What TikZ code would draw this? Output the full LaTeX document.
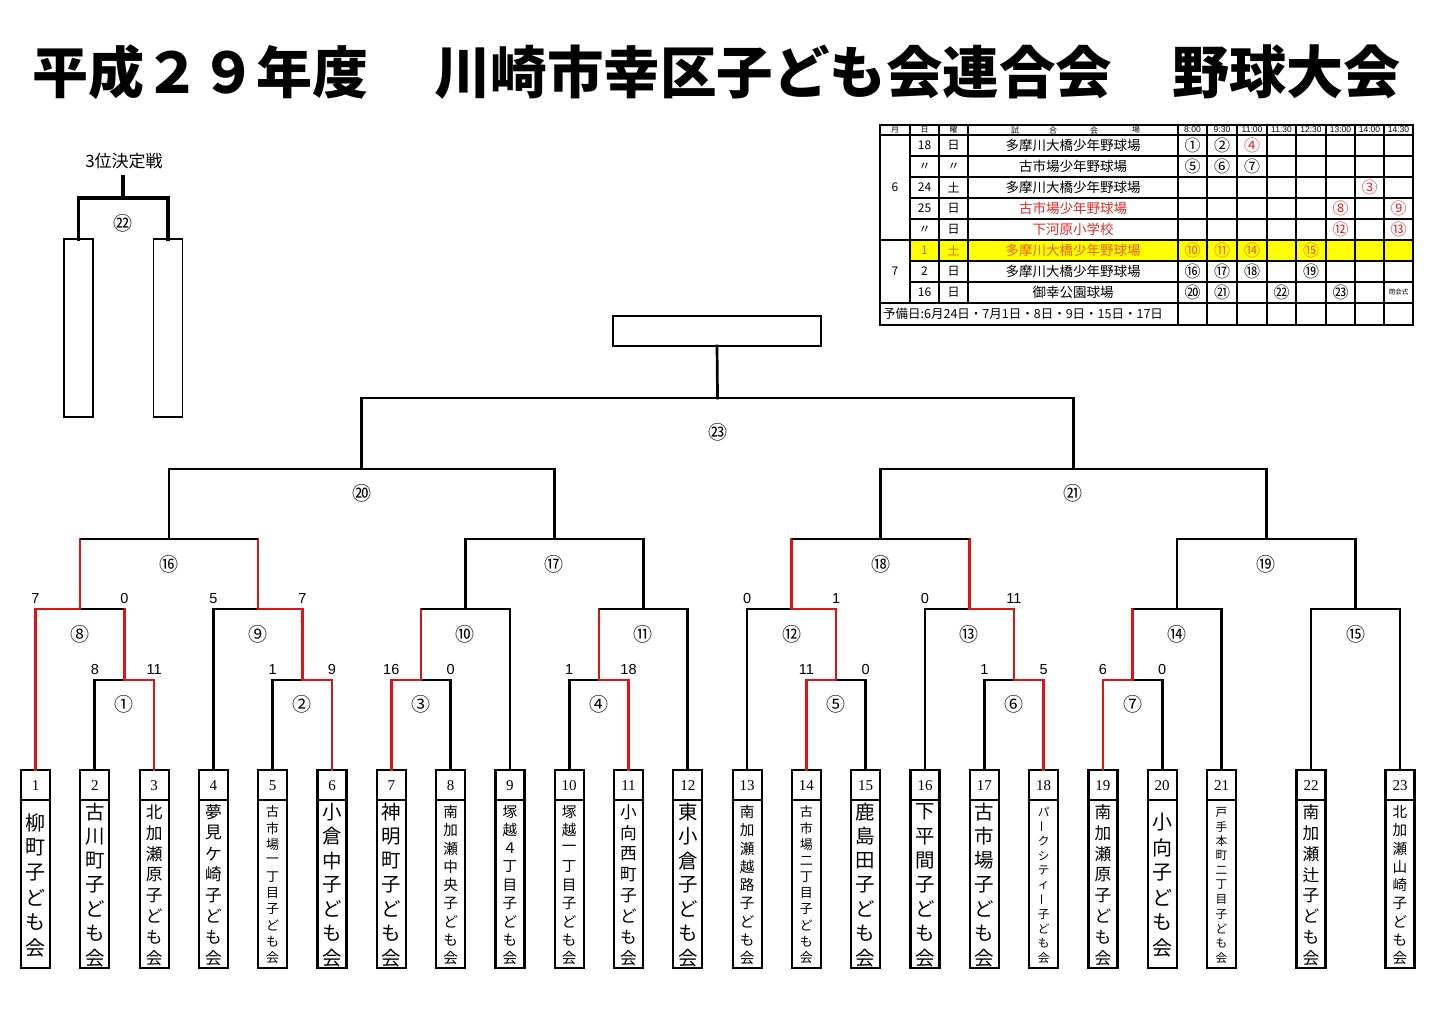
\documentclass[tikz,border=0pt]{standalone}
\usepackage{fontspec}
\setmainfont{Noto Sans CJK JP}
\newfontfamily\jp{Noto Sans CJK JP}
\newfontfamily\lsans{Liberation Sans}
\newfontfamily\lserif{Liberation Serif}
\usetikzlibrary{calc}
\definecolor{wred}{RGB}{226,18,18}
\definecolor{tred}{RGB}{232,40,40}
\definecolor{torange}{RGB}{240,95,0}
\definecolor{hlyellow}{RGB}{255,255,0}
\newcommand{\fsz}[1]{\fontsize{#1}{#1}\selectfont}
\newcommand{\vbar}{\rotatebox[origin=c]{90}{ー}}
\newcommand{\bjunc}[4]{\path ($(#2)!.5!(#3)$) coordinate (#1h); \coordinate (#1) at (#1h |- 0,#4);}
\newcommand{\bmatch}[8]{%
  \bjunc{#1}{#2}{#3}{#4}%
  \draw[brv,#5] (#2) -- (#2 |- #1);
  \draw[brh,#6] (#2 |- #1) -- (#1);
  \draw[brv,#7] (#3) -- (#3 |- #1);
  \draw[brh,#8] (#3 |- #1) -- (#1);
}
\newcommand{\putscore}[4]{\path (#2 |- #3) coordinate (#1c); \node[score] (#1) at ([yshift=10.5pt]#1c) {#4};}
\tikzset{
  brv/.style={line width=2.7pt, line cap=rect},
  brh/.style={line width=2.7pt, line cap=butt},
  teambox/.style={draw, line width=2.2pt, minimum width=29pt, minimum height=198pt, inner sep=0pt, outer sep=0pt},
  thirdbox/.style={draw, line width=1.8pt, minimum width=29pt, minimum height=178pt, inner sep=0pt, outer sep=0pt},
  score/.style={font=\lsans\fsz{14.5}, inner sep=0pt},
  mlabel/.style={font=\jp\fsz{19}, inner sep=0pt},
  tnum/.style={font=\lserif\fsz{15}, inner sep=0pt},
  tline/.style={line width=1.4pt},
  touter/.style={line width=2.2pt},
  thead/.style={font=\jp\fsz{8}, inner sep=0pt},
  ttime/.style={font=\lsans\fsz{8.5}, inner sep=0pt},
  tcell/.style={font=\jp\fsz{12}, inner sep=0pt},
  tvenue/.style={font=\jp\fsz{13.5}, inner sep=0pt},
  tcirc/.style={font=\jp\fsz{16}, inner sep=0pt},
}
\begin{document}
\begin{tikzpicture}[x=1pt,y=-1pt]
\useasboundingbox (0,0) rectangle (1440,1010);
\fill[white] (0,0) rectangle (1440,1010);

% ---- title
\node[anchor=west, inner sep=0pt, font=\jp\bfseries\fsz{56}] (title1) at (32,72) {平成２９年度};
\node[anchor=west, inner sep=0pt, font=\jp\bfseries\fsz{56.5}] (title2) at (434,72) {川崎市幸区子ども会連合会};
\node[anchor=west, inner sep=0pt, font=\jp\bfseries\fsz{57}] (title3) at (1172,72) {野球大会};

% ---- schedule table
\fill[hlyellow] (910,240) rectangle (1413,261);
\foreach \yy in {156,177,198,219,261,282} \draw[tline] (910,\yy) -- (1413,\yy);
\foreach \yy in {135,240,303} \draw[tline] (880,\yy) -- (1413,\yy);
\foreach \xx in {910,939,968} \draw[tline] (\xx,125) -- (\xx,303);
\foreach \xx in {1178,1207,1237,1267,1296,1326,1355,1384} \draw[tline] (\xx,125) -- (\xx,325);
\draw[touter] (880,125) rectangle (1413,325);

\node[thead] (hmon) at (895,130) {月};
\node[thead] (hday) at (924.5,130) {日};
\node[thead] (hwk) at (953.5,130) {曜};
\node[thead] (hv1) at (1015,130) {試};
\node[thead] (hv2) at (1053,130) {合};
\node[thead] (hv3) at (1094,130) {会};
\node[thead] (hv4) at (1136,130) {場};
\foreach \xx/\tm [count=\k] in {1192.5/8:00,1222/9:30,1252/11:00,1281.5/11:30,1311/12:30,1340.5/13:00,1369.5/14:00,1398.5/14:30}
  \node[ttime] (htime\k) at (\xx,130) {\tm};

\node[tcell] (mon6) at (895,187.5) {6};
\node[tcell] (mon7) at (895,271.5) {7};

\foreach \yy/\dy/\wk/\vn/\dcol/\vcol [count=\k] in {
145.5/18/日/多摩川大橋少年野球場/black/black,
166.5/〃/〃/古市場少年野球場/black/black,
187.5/24/土/多摩川大橋少年野球場/black/black,
208.5/25/日/古市場少年野球場/black/tred,
229.5/〃/日/下河原小学校/black/tred,
250.5/1/土/多摩川大橋少年野球場/torange/torange,
271.5/2/日/多摩川大橋少年野球場/black/black,
292.5/16/日/御幸公園球場/black/black}{
  \node[tcell, text=\dcol] (day\k) at (924.5,\yy) {\dy};
  \node[tcell, text=\dcol] (wk\k) at (953.5,\yy) {\wk};
  \node[tvenue, text=\vcol] (ven\k) at (1073,\yy) {\vn};
}

\foreach \xx/\yy/\cn/\cc [count=\k] in {
1192.5/145.5/①/black, 1222/145.5/②/black, 1252/145.5/④/tred,
1192.5/166.5/⑤/black, 1222/166.5/⑥/black, 1252/166.5/⑦/black,
1369.5/187.5/③/tred,
1340.5/208.5/⑧/tred, 1398.5/208.5/⑨/tred,
1340.5/229.5/⑫/tred, 1398.5/229.5/⑬/tred,
1192.5/250.5/⑩/torange, 1222/250.5/⑪/torange, 1252/250.5/⑭/torange, 1311/250.5/⑮/torange,
1192.5/271.5/⑯/black, 1222/271.5/⑰/black, 1252/271.5/⑱/black, 1311/271.5/⑲/black,
1192.5/292.5/⑳/black, 1222/292.5/㉑/black, 1281.5/292.5/㉒/black, 1340.5/292.5/㉓/black}
  \node[tcirc, text=\cc] (sc\k) at (\xx,\yy) {\cn};
\node[inner sep=0pt, font=\jp\fsz{6.5}] (closing) at (1398.5,292.5) {閉会式};
\node[anchor=west, inner sep=0pt, font=\jp\fsz{12.5}] (spare) at (883,314) {予備日:6月24日・7月1日・8日・9日・15日・17日};

% ---- third place
\node[inner sep=0pt, font=\jp\fsz{17}] (third) at (124,161) {3位決定戦};
\node[thirdbox] (b1) at (78.5,328) {};
\node[thirdbox] (b2) at (168,328) {};
\bjunc{m22}{b1.north}{b2.north}{198}
\draw[line width=3.6pt, line cap=rect] (b1.north) |- (m22) -| (b2.north);
\draw[line width=3.6pt, line cap=rect] (m22) -- (m22 |- 0,177);
\node[mlabel] (l22) at ([yshift=-25pt]m22) {㉒};

% ---- teams
\foreach \i/\x/\nm/\n in {
1/35.5/{柳,町,子,ど,も,会}/6,
2/94.8/{古,川,町,子,ど,も,会}/7,
3/154.1/{北,加,瀬,原,子,ど,も,会}/8,
4/213.4/{夢,見,ケ,崎,子,ど,も,会}/8,
5/272.7/{古,市,場,一,丁,目,子,ど,も,会}/10,
6/332.0/{小,倉,中,子,ど,も,会}/7,
7/391.3/{神,明,町,子,ど,も,会}/7,
8/450.6/{南,加,瀬,中,央,子,ど,も,会}/9,
9/509.9/{塚,越,４,丁,目,子,ど,も,会}/9,
10/569.2/{塚,越,一,丁,目,子,ど,も,会}/9,
11/628.5/{小,向,西,町,子,ど,も,会}/8,
12/687.8/{東,小,倉,子,ど,も,会}/7,
13/747.1/{南,加,瀬,越,路,子,ど,も,会}/9,
14/806.4/{古,市,場,二,丁,目,子,ど,も,会}/10,
15/865.7/{鹿,島,田,子,ど,も,会}/7,
16/925.0/{下,平,間,子,ど,も,会}/7,
17/984.3/{古,市,場,子,ど,も,会}/7,
18/1043.6/{パ,\vbar,ク,シ,テ,ィ,\vbar,子,ど,も,会}/11,
19/1102.9/{南,加,瀬,原,子,ど,も,会}/8,
20/1162.2/{小,向,子,ど,も,会}/6,
21/1221.5/{戸,手,本,町,二,丁,目,子,ど,も,会}/11,
22/1311/{南,加,瀬,辻,子,ど,も,会}/8,
23/1400/{北,加,瀬,山,崎,子,ど,も,会}/9}{
  \node[teambox] (t\i) at (\x,869) {};
  \draw[line width=2pt] ([yshift=-30pt]t\i.north west) -- ([yshift=-30pt]t\i.north east);
  \node[tnum] (tn\i) at ([yshift=-15.5pt]t\i.north) {\i};
  \pgfmathsetmacro{\st}{min(25,146/(\n-1))}
  \pgfmathsetmacro{\fs}{min(20,0.8*\st)}
  \foreach \ch [count=\j] in \nm {
    \pgfmathsetmacro{\yy}{885+(\j-(\n+1)/2)*\st}
    \node[inner sep=0pt, font=\jp\fsz{\fs}] (tc\i-\j) at (\x,\yy) {\ch};
  }
}

% ---- bracket
\bmatch{m1}{t2.north}{t3.north}{680}{black}{black}{wred}{wred}
\bmatch{m2}{t5.north}{t6.north}{680}{black}{black}{wred}{wred}
\bmatch{m3}{t7.north}{t8.north}{680}{wred}{wred}{black}{black}
\bmatch{m4}{t10.north}{t11.north}{680}{black}{black}{wred}{wred}
\bmatch{m5}{t14.north}{t15.north}{680}{wred}{wred}{black}{black}
\bmatch{m6}{t17.north}{t18.north}{680}{black}{black}{wred}{wred}
\bmatch{m7}{t19.north}{t20.north}{680}{wred}{wred}{black}{black}
\bmatch{m8}{t1.north}{m1}{609}{wred}{wred}{wred}{black}
\bmatch{m9}{t4.north}{m2}{609}{black}{black}{wred}{wred}
\bmatch{m10}{m3}{t9.north}{609}{wred}{black}{black}{black}
\bmatch{m11}{m4}{t12.north}{609}{wred}{black}{black}{black}
\bmatch{m12}{t13.north}{m5}{609}{black}{black}{wred}{wred}
\bmatch{m13}{t16.north}{m6}{609}{black}{black}{wred}{wred}
\bmatch{m14}{m7}{t21.north}{609}{wred}{black}{black}{black}
\bmatch{m15}{t22.north}{t23.north}{609}{black}{black}{black}{black}
\bmatch{m16}{m8}{m9}{539}{wred}{black}{wred}{black}
\bmatch{m17}{m10}{m11}{539}{black}{black}{black}{black}
\bmatch{m18}{m12}{m13}{539}{wred}{black}{wred}{black}
\bmatch{m19}{m14}{m15}{539}{black}{black}{black}{black}
\bmatch{m20}{m16}{m17}{469}{black}{black}{black}{black}
\bmatch{m21}{m18}{m19}{469}{black}{black}{black}{black}
\bmatch{m23}{m20}{m21}{398}{black}{black}{black}{black}

\node[draw, line width=2pt, minimum width=208pt, minimum height=30pt, inner sep=0pt, outer sep=0pt] (champ) at (717,331) {};
\draw[brv,black] (m23) -- (champ.south);

% ---- match labels
\foreach \m/\lab in {m1/①,m2/②,m3/③,m4/④,m5/⑤,m6/⑥,m7/⑦}
  \node[mlabel] (l\m) at ([yshift=-24pt]\m) {\lab};
\foreach \m/\lab in {m8/⑧,m9/⑨,m10/⑩,m11/⑪,m12/⑫,m13/⑬,m14/⑭,m15/⑮,m16/⑯,m17/⑰,m18/⑱,m19/⑲}
  \node[mlabel] (l\m) at ([yshift=-25pt]\m) {\lab};
\node[mlabel] (lm20) at ([yshift=-24pt]m20) {⑳};
\node[mlabel] (lm21) at ([yshift=-24pt]m21) {㉑};
\node[mlabel] (lm23) at ([yshift=-34pt]m23) {㉓};

% ---- scores
\putscore{s1a}{t2.north}{m1}{8}
\putscore{s1b}{t3.north}{m1}{11}
\putscore{s2a}{t5.north}{m2}{1}
\putscore{s2b}{t6.north}{m2}{9}
\putscore{s3a}{t7.north}{m3}{16}
\putscore{s3b}{t8.north}{m3}{0}
\putscore{s4a}{t10.north}{m4}{1}
\putscore{s4b}{t11.north}{m4}{18}
\putscore{s5a}{t14.north}{m5}{11}
\putscore{s5b}{t15.north}{m5}{0}
\putscore{s6a}{t17.north}{m6}{1}
\putscore{s6b}{t18.north}{m6}{5}
\putscore{s7a}{t19.north}{m7}{6}
\putscore{s7b}{t20.north}{m7}{0}
\putscore{s8a}{t1.north}{m8}{7}
\putscore{s8b}{m1}{m8}{0}
\putscore{s9a}{t4.north}{m9}{5}
\putscore{s9b}{m2}{m9}{7}
\putscore{s12a}{t13.north}{m12}{0}
\putscore{s12b}{m5}{m12}{1}
\putscore{s13a}{t16.north}{m13}{0}
\putscore{s13b}{m6}{m13}{11}
\end{tikzpicture}
\end{document}
